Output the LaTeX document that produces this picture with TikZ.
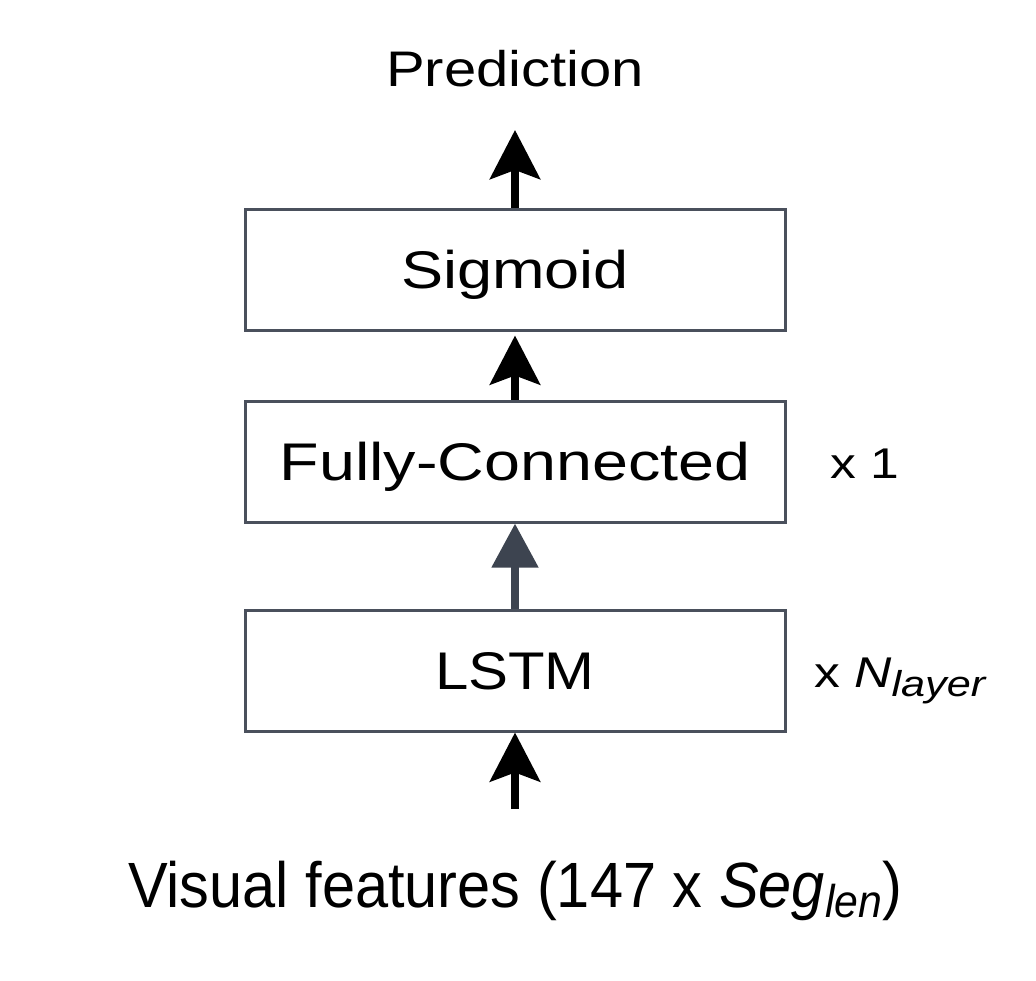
\documentclass[tikz,border=0pt]{standalone}
\usepackage{fontspec}
\setmainfont{Liberation Sans}
\usepackage{graphicx}
\usetikzlibrary{arrows.meta}
\definecolor{boxgray}{HTML}{4A505C}
\definecolor{arrowgray}{HTML}{3D4450}
\newcommand{\fs}[1]{\fontsize{#1}{#1}\selectfont}
\begin{document}
\begin{tikzpicture}[x=1pt,y=-1pt,
  layerbox/.style={draw=boxgray, line width=3pt, fill=white, minimum width=540pt, minimum height=121pt, inner sep=0pt, text height=38pt, text depth=0pt, font=\fs{53}},
  label/.style={inner sep=0pt, anchor=base},
  bigarrow/.style={line width=8pt, -{Stealth[length=49pt,width=50pt,inset=9pt]}},
  grayarrow/.style={line width=8pt, draw=arrowgray, -{Triangle[length=44pt,width=45pt,fill=arrowgray]}}
]
\useasboundingbox (0,0) rectangle (1036,980);
\node[label] (pred) at (515,86) {\fs{50}\scalebox{1.16}[1]{Prediction}};
\node[layerbox] (sig) at (515,269.5) {\scalebox{1.19}[1]{Sigmoid}};
\node[layerbox] (fc) at (515,461.5) {\scalebox{1.22}[1]{Fully-Connected}};
\node[layerbox] (lstm) at (515,670.5) {\scalebox{1.13}[1]{LSTM}};
\node[label, anchor=base west] (x1) at (830,478) {\fs{43}\scalebox{1.2}[1]{x 1}};
\node[label, anchor=base west] (xn) at (814,687) {\fs{43}\scalebox{1.2}[1]{x \textit{N}\raisebox{-9pt}{\fs{36}\textit{layer}}}};
\node[label] (vis) at (515,907) {\fs{64}\scalebox{0.93}[1]{Visual features (147 x \textit{Seg}\raisebox{-10pt}{\fs{46}\textit{len}})}};
\coordinate (ptip) at (515,130);
\coordinate (vtail) at (515,809);
\draw[bigarrow] (sig.north) -- (ptip);
\draw[bigarrow, shorten >=4pt] (fc.north) -- (sig.south);
\draw[grayarrow] (lstm.north) -- (fc.south);
\draw[bigarrow] (vtail) -- (lstm.south);
\end{tikzpicture}
\end{document}
